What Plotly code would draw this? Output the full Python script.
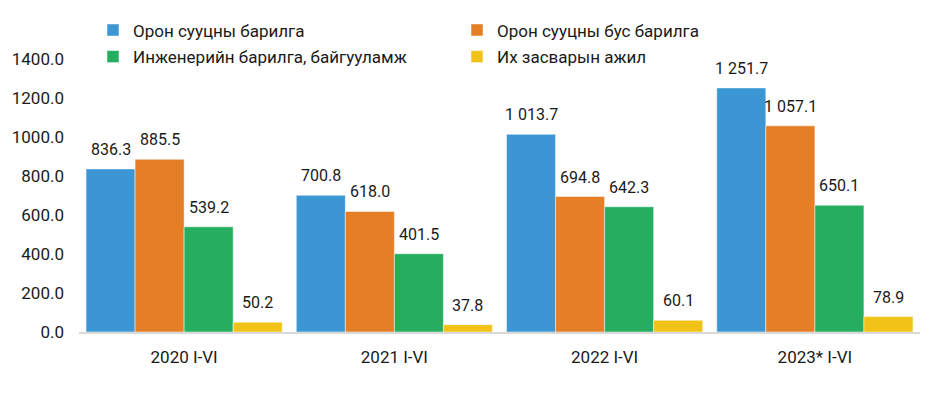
import plotly.graph_objects as go

categories = ["2020 I-VI", "2021 I-VI", "2022 I-VI", "2023* I-VI"]
series_names = ["Орон сууцны барилга", "Орон сууцны бус барилга",
                "Инженерийн барилга, байгууламж", "Их засварын ажил"]
residential = [836.3, 700.8, 1013.7, 1251.7]
non_residential = [885.5, 618.0, 694.8, 1057.1]
engineering = [539.2, 401.5, 642.3, 650.1]
repair = [50.2, 37.8, 60.1, 78.9]
y_ticks = [0, 200, 400, 600, 800, 1000, 1200, 1400]

colors = ["#3C96D4", "#E57E25", "#25AE60", "#F1C319"]
legend_ids = ["legend", "legend2", "legend3", "legend4"]
legend_pos = [(93, 26), (457, 26), (93, 53), (457, 53)]

W, H = 937, 396
ML, MR, MT, MB = 79, 17, 55, 64
PW, PH = W - ML - MR, H - MT - MB
n_series = 4
bargap = 0.067
cat_px = PW / len(categories)
bar_px = cat_px * (1 - bargap) / n_series

fig = go.Figure()
all_vals = [residential, non_residential, engineering, repair]
for i, (name, vals, col, lg) in enumerate(zip(series_names, all_vals, colors, legend_ids)):
    fig.add_trace(go.Bar(
        x=categories, y=vals, name=name, showlegend=True,
        marker=dict(color=col, line=dict(color="rgba(255,255,255,0.6)", width=0.8)),
        cliponaxis=False, legend=lg,
    ))
    for c, v in zip(categories, vals):
        fig.add_annotation(
            x=c, y=v, text=f"{v:,.1f}".replace(",", " "),
            showarrow=False, yanchor="bottom", xanchor="center",
            xshift=(i - (n_series - 1) / 2) * bar_px, yshift=8,
            font=dict(size=16, color="#1a1a1a"),
        )

layout_legends = {}
for lg, (px, py) in zip(legend_ids, legend_pos):
    layout_legends[lg] = dict(
        x=(px - ML) / PW, y=(H - MB - py) / PH, xref="paper", yref="paper",
        xanchor="left", yanchor="middle", orientation="h",
        font=dict(size=17, color="#1a1a1a"), itemwidth=30,
        bgcolor="rgba(0,0,0,0)",
    )

fig.update_layout(
    width=W, height=H,
    margin=dict(l=ML, r=MR, t=MT, b=MB),
    barmode="group", bargap=bargap, bargroupgap=0,
    plot_bgcolor="white", paper_bgcolor="white",
    font=dict(family="Roboto", size=17, color="#1a1a1a"),
    showlegend=True,
    xaxis=dict(showline=True, linecolor="#d9d9d9", linewidth=1.5, ticks="",
               tickfont=dict(size=17), showgrid=False, automargin=False,
               ticklabelstandoff=9),
    yaxis=dict(range=[0, 1400], tickvals=y_ticks, tickformat=".1f",
               showgrid=False, zeroline=False, showline=False,
               tickfont=dict(size=17), ticklabelstandoff=14, automargin=False),
    **layout_legends,
)

fig.write_html("out.html", config={"displayModeBar": False},
               post_script="document.body.style.margin='0px';")
